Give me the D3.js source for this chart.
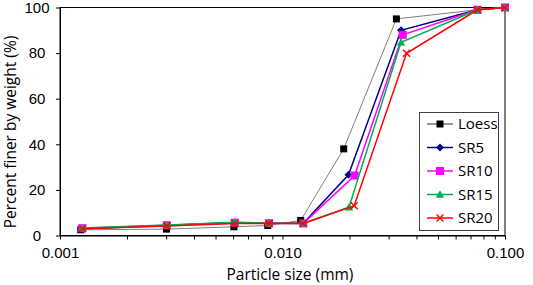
<!DOCTYPE html>
<html>
<head>
<meta charset="utf-8">
<script src="https://cdn.jsdelivr.net/npm/d3@7"></script>
<style>
  body { margin: 0; background: #fff; }
  svg { display: block; font-family: "Open Sans", sans-serif; }
</style>
</head>
<body>
<svg id="chart" width="533" height="285"></svg>
<script>
// particle size (mm) and percent finer for each mix
const loessSize = [0.00124, 0.00301, 0.00605, 0.00858, 0.01207, 0.01884, 0.0325, 0.0752, 0.1];
const loessPct  = [2.5, 2.8, 3.8, 4.4, 6.6, 38, 95, 99, 100];
const sr5Size   = [0.00126, 0.00302, 0.0061, 0.0087, 0.0124, 0.0198, 0.0341, 0.0752, 0.1];
const sr5Pct    = [3, 4.4, 5.7, 5.4, 5.4, 26.6, 90, 99, 100];
const sr10Size  = [0.00126, 0.00302, 0.0061, 0.0087, 0.0124, 0.0211, 0.0347, 0.0752, 0.1];
const sr10Pct   = [3.2, 4.5, 5.6, 5.4, 5.3, 26.3, 88, 99, 100];
const sr15Size  = [0.00126, 0.00302, 0.0061, 0.0087, 0.0124, 0.0199, 0.0341, 0.0752, 0.1];
const sr15Pct   = [3.3, 4.6, 5.8, 5.4, 5.3, 12.4, 84.7, 99, 100];
const sr20Size  = [0.00126, 0.00302, 0.0061, 0.0087, 0.0124, 0.021, 0.0361, 0.0752, 0.1];
const sr20Pct   = [3, 4.2, 5.3, 5.3, 5.3, 13.1, 79.9, 99, 100];

const seriesNames = ['Loess', 'SR5', 'SR10', 'SR15', 'SR20'];
const yTicks = [0, 20, 40, 60, 80, 100];
const xMajor = [0.001, 0.01, 0.1];

var series = [
  { name: 'Loess', x: loessSize, y: loessPct, line: '#7f7f7f', fill: '#000', sym: 'square', lw: 1 },
  { name: 'SR5', x: sr5Size, y: sr5Pct, line: '#000080', fill: '#000080', sym: 'diamond', lw: 1.5 },
  { name: 'SR10', x: sr10Size, y: sr10Pct, line: '#ff00ff', fill: '#ff00ff', sym: 'square2', lw: 1.5 },
  { name: 'SR15', x: sr15Size, y: sr15Pct, line: '#00b050', fill: '#00b050', sym: 'triangle', lw: 1.5 },
  { name: 'SR20', x: sr20Size, y: sr20Pct, line: '#ff0000', fill: '#ff0000', sym: 'cross', lw: 1.5 }
];

var svg = d3.select('#chart');
var plotL = 60, plotR = 505, plotT = 7.5, plotB = 235.5;

var x = d3.scaleLog().domain([0.001, 0.1]).range([plotL, plotR]);
var y = d3.scaleLinear().domain([0, 100]).range([plotB, plotT]);

// minor ticks 1..9 per decade
var xTicks = [];
[0.001, 0.01].forEach(function (d) {
  for (let k = 1; k < 10; k++) xTicks.push(d * k);
});
xTicks.push(0.1);

// frame
svg.append('rect')
  .attr('x', plotL).attr('y', plotT)
  .attr('width', plotR - plotL).attr('height', plotB - plotT)
  .attr('fill', 'none').attr('stroke', '#000').attr('stroke-width', 1);

var gx = svg.append('g')
  .attr('transform', 'translate(0,' + plotB + ')')
  .call(d3.axisBottom(x).tickValues(xTicks).tickSize(4).tickSizeOuter(0)
    .tickFormat(function (d) {
      return xMajor.some(m => Math.abs(m - d) < 1e-9) ? d3.format('.3f')(d) : '';
    }));
gx.select('.domain').attr('stroke', '#000');
gx.selectAll('text').attr('font-size', 15).attr('fill', '#000').attr('dy', '1.05em');

var gy = svg.append('g')
  .attr('transform', 'translate(' + plotL + ',0)')
  .call(d3.axisLeft(y).tickValues(yTicks).tickSize(4).tickSizeOuter(0));
gy.select('.domain').attr('stroke', '#000');
gy.selectAll('text').attr('font-size', 15).attr('fill', '#000')
  .attr('text-anchor', 'middle').attr('x', -23);

// axis titles
svg.append('text')
  .attr('x', 290).attr('y', 280)
  .attr('text-anchor', 'middle').attr('font-size', 15.5)
  .text('Particle size (mm)');
svg.append('text')
  .attr('transform', 'translate(16,132) rotate(-90)')
  .attr('text-anchor', 'middle').attr('font-size', 15.5)
  .text('Percent finer by weight (%)');

function marker(g, s) {
  if (s.sym === 'square') {
    g.append('rect').attr('x', -3.5).attr('y', -3.5).attr('width', 7).attr('height', 7).attr('fill', s.fill);
  } else if (s.sym === 'square2') {
    g.append('rect').attr('x', -4).attr('y', -4).attr('width', 8).attr('height', 8).attr('fill', s.fill);
  } else if (s.sym === 'diamond') {
    g.append('path').attr('d', 'M0,-4L4,0L0,4L-4,0Z').attr('fill', s.fill);
  } else if (s.sym === 'triangle') {
    g.append('path').attr('d', 'M0,-4.2L4.2,3.2L-4.2,3.2Z').attr('fill', s.fill);
  } else {
    g.append('path').attr('d', 'M-3.5,-3.5L3.5,3.5M-3.5,3.5L3.5,-3.5')
      .attr('stroke', s.fill).attr('stroke-width', 1.4).attr('fill', 'none');
  }
}

var line = d3.line().x(d => x(d[0])).y(d => y(d[1]));

series.forEach(function (s) {
  var pts = s.x.map((v, i) => [v, s.y[i]]);
  var g = svg.append('g');
  g.append('path').datum(pts).attr('d', line)
    .attr('fill', 'none').attr('stroke', s.line).attr('stroke-width', s.lw);
  g.selectAll('g.pt').data(pts).enter().append('g')
    .attr('class', 'pt')
    .attr('transform', d => 'translate(' + x(d[0]) + ',' + y(d[1]) + ')')
    .each(function () { marker(d3.select(this), s); });
});

// legend
var lg = svg.append('g');
lg.append('rect').attr('x', 419.5).attr('y', 112.5).attr('width', 79).attr('height', 118)
  .attr('fill', '#fff').attr('stroke', '#404040').attr('stroke-width', 1);
series.forEach(function (s, i) {
  var ly = 124 + i * 23.5;
  lg.append('line').attr('x1', 427).attr('x2', 453).attr('y1', ly).attr('y2', ly)
    .attr('stroke', i === 0 ? '#333' : s.line).attr('stroke-width', s.lw);
  var m = lg.append('g').attr('transform', 'translate(440,' + ly + ')');
  marker(m, s);
  lg.append('text').attr('x', 458).attr('y', ly).attr('dy', '0.35em')
    .attr('font-size', 15).text(seriesNames[i]);
});
</script>
</body>
</html>
